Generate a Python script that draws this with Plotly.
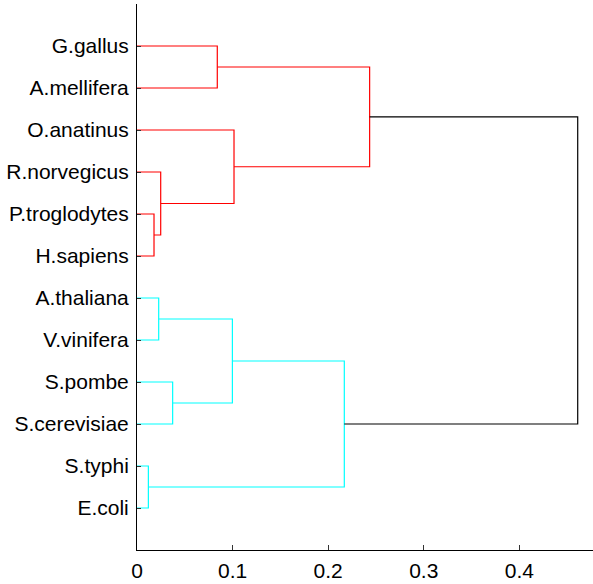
import plotly.graph_objects as go

# Leaves listed from the bottom of the tree to the top
leaf_labels = [
    "E.coli", "S.typhi", "S.cerevisiae", "S.pombe", "V.vinifera", "A.thaliana",
    "H.sapiens", "P.troglodytes", "R.norvegicus", "O.anatinus", "A.mellifera", "G.gallus",
]

# Linkage: node ids 0..11 are leaves, each merge creates node 12, 13, ...
merge_a = [0, 6, 4, 8, 2, 10, 14, 9, 12, 17, 20]
merge_b = [1, 7, 5, 13, 3, 11, 16, 15, 18, 19, 21]
merge_height = [0.0119, 0.0178, 0.0227, 0.0248, 0.0373, 0.0840,
                0.0998, 0.1015, 0.2169, 0.2434, 0.4611]
merge_color = ["#00FFFF", "#FF0000", "#00FFFF", "#FF0000", "#00FFFF", "#FF0000",
               "#00FFFF", "#FF0000", "#00FFFF", "#FF0000", "#000000"]

x_ticks = [0, 0.1, 0.2, 0.3, 0.4]
x_tick_text = ["0", "0.1", "0.2", "0.3", "0.4"]

n_leaves = len(leaf_labels)
node_pos = {i: float(i + 1) for i in range(n_leaves)}
node_h = {i: 0.0 for i in range(n_leaves)}

segments = {}
for k, (a, b, h, c) in enumerate(zip(merge_a, merge_b, merge_height, merge_color)):
    node = n_leaves + k
    ya, yb = node_pos[a], node_pos[b]
    xs = [node_h[a], h, h, node_h[b], None]
    ys = [ya, ya, yb, yb, None]
    sx, sy = segments.setdefault(c, ([], []))
    sx.extend(xs)
    sy.extend(ys)
    node_pos[node] = (ya + yb) / 2
    node_h[node] = h

fig = go.Figure()
for c, (sx, sy) in segments.items():
    fig.add_trace(go.Scatter(x=sx, y=sy, mode="lines",
                             line=dict(color=c, width=1.2),
                             hoverinfo="skip", showlegend=False))

fig.update_layout(
    width=593, height=584,
    margin=dict(l=137, r=0, t=4, b=34),
    paper_bgcolor="white", plot_bgcolor="white",
    font=dict(family="Liberation Sans, Arial, sans-serif", size=21, color="black"),
    xaxis=dict(range=[0, 0.4771], tickvals=x_ticks, ticktext=x_tick_text,
               ticks="inside", ticklen=5, tickcolor="#333", showline=True,
               linecolor="black", linewidth=1, showgrid=False, zeroline=False,
               mirror=False, ticklabelstandoff=2),
    yaxis=dict(range=[0, 13], tickvals=[i + 1 for i in range(n_leaves)],
               ticktext=leaf_labels, ticks="inside", ticklen=4, tickcolor="#333",
               showline=True, linecolor="black", linewidth=1, showgrid=False,
               zeroline=False, mirror=False, ticklabelstandoff=3),
)

fig.write_html("out.html")
